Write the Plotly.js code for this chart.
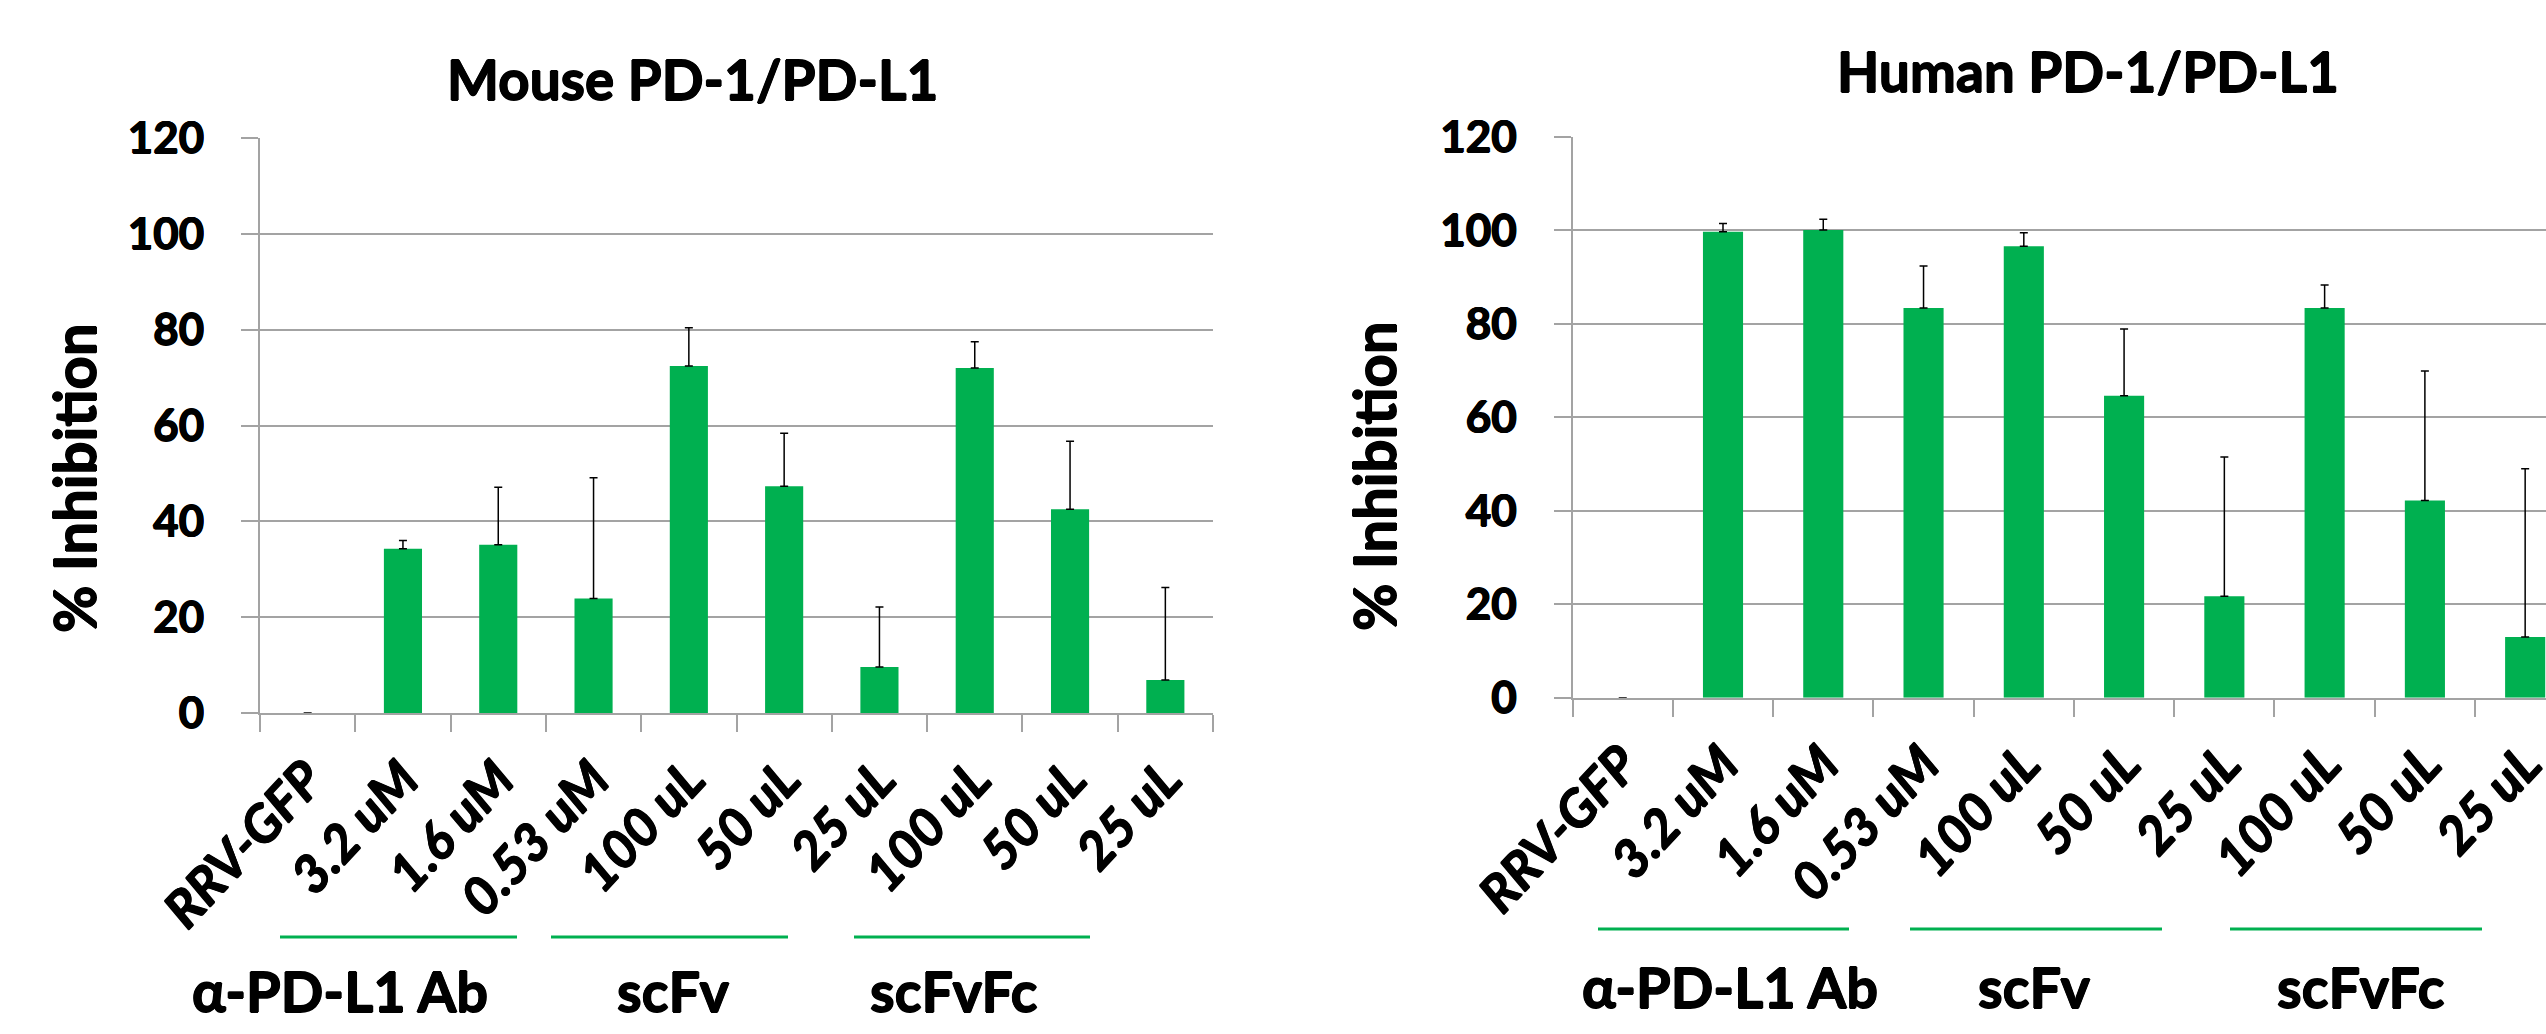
<!DOCTYPE html>
<html>
<head>
<meta charset="utf-8">
<script src="https://cdn.plot.ly/plotly-3.0.1.min.js"></script>
<style>html,body{margin:0;padding:0;background:#fff;}#chart{width:2546px;height:1034px;}</style>
</head>
<body>
<div id="chart"></div>
<script>
// ---- data ----
const categories = ['RRV-GFP', '3.2 uM', '1.6 uM', '0.53 uM', '100 uL', '50 uL', '25 uL', '100 uL', '50 uL', '25 uL'];
const mouseValues = [0, 34.3, 35.1, 23.9, 72.4, 47.3, 9.6, 72.0, 42.5, 6.9];
const mouseErrors = [0, 1.7, 12.0, 25.2, 8.0, 11.1, 12.5, 5.5, 14.2, 19.3];
const humanValues = [0, 99.7, 100.1, 83.4, 96.6, 64.6, 21.7, 83.4, 42.2, 13.0];
const humanErrors = [0, 1.8, 2.3, 9.0, 2.9, 14.3, 29.8, 4.9, 27.7, 36.0];
const groups = ['\u03b1-PD-L1 Ab', 'scFv', 'scFvFc'];
const titles = ['Mouse PD-1/PD-L1', 'Human PD-1/PD-L1'];
const yTitle = '% Inhibition';
const yTicks = [0, 20, 40, 60, 80, 100, 120];

// ---- style ----
const W = 2546, H = 1034;
const FONT = 'Lato, "Liberation Sans", Arial, sans-serif';
const WEIGHT = 700;
const SHADOW = '0.7px 0 0 #000, -0.7px 0 0 #000, 0 0.7px 0 #000, 0 -0.7px 0 #000';
const GREEN = '#00b050';
const GRID = '#a3a3a3';
const xs = categories.map((_, i) => i);

function barTrace(vals, errs, xa, ya) {
  return {
    type: 'bar', x: xs, y: vals, xaxis: xa, yaxis: ya,
    marker: {color: GREEN, line: {width: 0}},
    error_y: {type: 'data', symmetric: false, array: errs, arrayminus: errs.map(() => 0),
              color: '#000', thickness: 1.5, width: 4},
    hoverinfo: 'skip', showlegend: false
  };
}

function xAxis(domain, range, anchor) {
  return {
    domain: domain, range: range, anchor: anchor, type: 'linear',
    tickmode: 'array', tickvals: xs, ticktext: categories,
    ticks: 'outside', ticklen: 5, tickcolor: 'rgba(0,0,0,0)',
    tickangle: -47, ticklabelstandoff: 8, ticklabeloverflow: 'allow',
    tickfont: {family: FONT, size: 52, color: '#000', weight: WEIGHT, style: 'italic', shadow: SHADOW},
    showgrid: false, zeroline: false,
    showline: true, linecolor: GRID, linewidth: 2,
    minor: {tick0: -0.5, dtick: 1, ticks: 'outside', ticklen: 17, tickcolor: GRID, tickwidth: 2, showgrid: false},
    fixedrange: true
  };
}

function yAxis(domain, anchor) {
  return {
    domain: domain, range: [0, 120], anchor: anchor,
    tickmode: 'array', tickvals: yTicks,
    ticks: 'outside', ticklen: 17, tickcolor: GRID, tickwidth: 2,
    ticklabelstandoff: 28,
    tickfont: {family: FONT, size: 44, color: '#000', weight: WEIGHT, shadow: SHADOW},
    showgrid: true, gridcolor: GRID, gridwidth: 2,
    zeroline: false, showline: true, linecolor: GRID, linewidth: 2,
    fixedrange: true
  };
}

const data = [
  barTrace(mouseValues, mouseErrors, 'x', 'y'),
  barTrace(humanValues, humanErrors, 'x2', 'y2')
];

const leftX = [260 / W, 1213 / W];
const rightX = [1572.6 / W, 1];
const catW2 = 100.27;

const layout = {
  width: W, height: H,
  margin: {l: 0, r: 0, t: 0, b: 0},
  paper_bgcolor: '#fff', plot_bgcolor: '#fff',
  bargap: 0.6,
  xaxis: xAxis(leftX, [-0.5, 9.5], 'y'),
  yaxis: yAxis([1 - 713 / H, 1 - 138 / H], 'x'),
  xaxis2: xAxis(rightX, [-0.5, -0.5 + (W - 1572.6) / catW2], 'y2'),
  yaxis2: yAxis([1 - 697.7 / H, 1 - 137 / H], 'x2'),
  annotations: [],
  shapes: []
};

function ann(text, x, y, size, angle) {
  return {text: text, x: x / W, y: 1 - y / H, xref: 'paper', yref: 'paper',
          xanchor: 'center', yanchor: 'middle', showarrow: false, textangle: angle || 0,
          font: {family: FONT, size: size, color: '#000', weight: WEIGHT, shadow: SHADOW}};
}

layout.annotations.push(ann(titles[0], 692, 79, 55));
layout.annotations.push(ann(titles[1], 2088, 71, 55));
layout.annotations.push(ann(yTitle, 73, 478, 58, -90));
layout.annotations.push(ann(yTitle, 1373, 476, 58, -90));

const groupCentersL = [340, 673, 954];
const groupCentersR = [1730, 2034, 2361];
const linesL = [[280, 517], [551, 788], [854, 1090]];
const linesR = [[1598, 1849], [1910, 2162], [2230, 2482]];
groups.forEach((g, i) => {
  layout.annotations.push(ann(g, groupCentersL[i], 990, 56));
  layout.annotations.push(ann(g, groupCentersR[i], 986, 56));
  layout.shapes.push({type: 'line', xref: 'paper', yref: 'paper',
    x0: linesL[i][0] / W, x1: linesL[i][1] / W, y0: 1 - 937 / H, y1: 1 - 937 / H,
    line: {color: GREEN, width: 3}});
  layout.shapes.push({type: 'line', xref: 'paper', yref: 'paper',
    x0: linesR[i][0] / W, x1: linesR[i][1] / W, y0: 1 - 929 / H, y1: 1 - 929 / H,
    line: {color: GREEN, width: 3}});
});

Plotly.newPlot('chart', data, layout, {staticPlot: true, displayModeBar: false});
</script>
</body>
</html>
